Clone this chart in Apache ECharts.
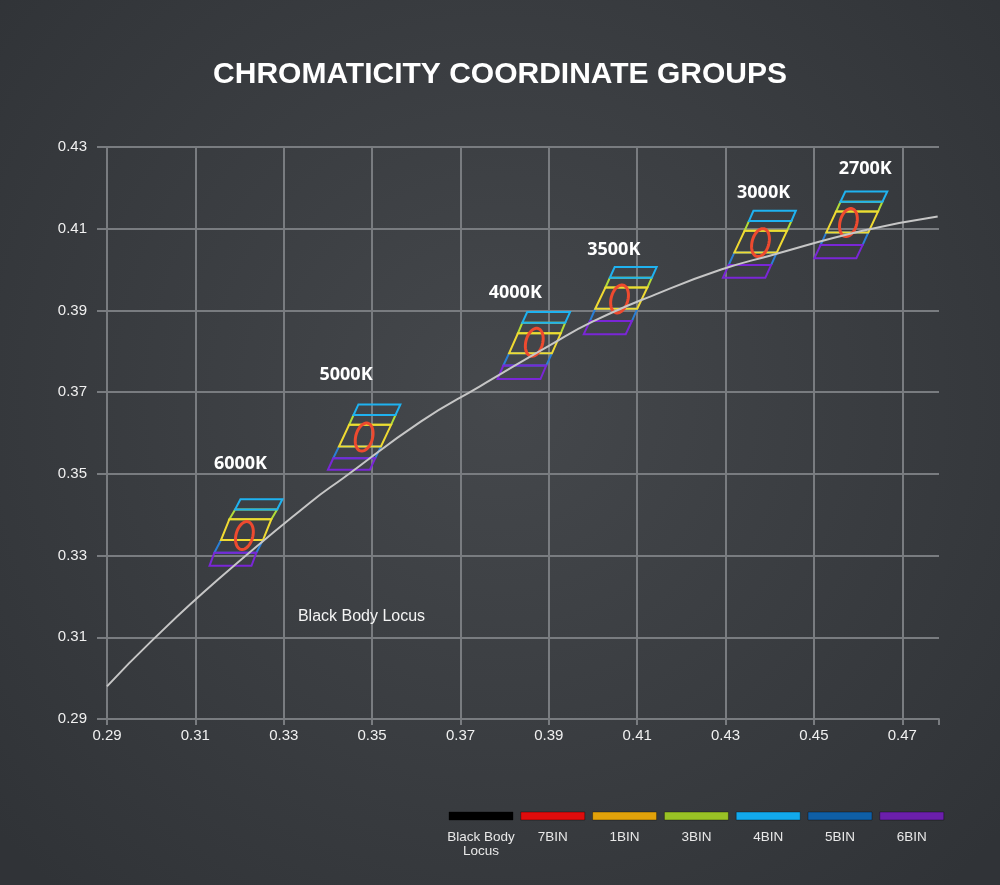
<!DOCTYPE html>
<html>
<head>
<meta charset="utf-8">
<title>Chromaticity Coordinate Groups</title>
<script src="https://cdn.jsdelivr.net/npm/echarts@6.0.0/dist/echarts.min.js"></script>
<style>
html, body { margin: 0; padding: 0; background: #3a3d41; }
#chart { width: 1000px; height: 885px; }
</style>
</head>
<body>
<div id="chart"></div>
<script>
// colour groups (CCT) and where their name sits
var groupNames = ['6000K', '5000K', '4000K', '3500K', '3000K', '2700K'];
var labelX = [0.3202, 0.3441, 0.3824, 0.4047, 0.4386, 0.4616];
var labelY = [0.3524, 0.3742, 0.3942, 0.4048, 0.4187, 0.4246];

// bin boundaries of each group, top to bottom:
// 4BIN top, 4BIN/3BIN, 3BIN/1BIN, 1BIN/5BIN, 5BIN/6BIN, 6BIN bottom
var binLevelY = [
    [0.3438, 0.3413, 0.3389, 0.3338, 0.3307, 0.3275],
    [0.3670, 0.3644, 0.3620, 0.3567, 0.3538, 0.3510],
    [0.3896, 0.3870, 0.3844, 0.3795, 0.3765, 0.3732],
    [0.4006, 0.3980, 0.3956, 0.3904, 0.3874, 0.3842],
    [0.4144, 0.4119, 0.4095, 0.4042, 0.4011, 0.3980],
    [0.4191, 0.4166, 0.4142, 0.4091, 0.4060, 0.4028]
];
// x of the left edge at those boundaries
var binLevelX = [
    [0.3202, 0.3190, 0.3177, 0.3158, 0.3143, 0.3132],
    [0.3469, 0.3458, 0.3448, 0.3425, 0.3412, 0.3400],
    [0.3851, 0.3840, 0.3830, 0.3810, 0.3797, 0.3784],
    [0.4049, 0.4038, 0.4028, 0.4005, 0.3993, 0.3979],
    [0.4363, 0.4353, 0.4343, 0.4320, 0.4307, 0.4294],
    [0.4571, 0.4560, 0.4550, 0.4528, 0.4515, 0.4501]
];
var binWidth = [0.0095, 0.0095, 0.0097, 0.0095, 0.0096, 0.0095];

// 7BIN ellipses
var ellipseX = [0.3211, 0.3482, 0.3867, 0.4060, 0.4379, 0.4578];
var ellipseY = [0.3349, 0.3590, 0.3822, 0.3928, 0.4066, 0.4115];
var ellipseSemiX = 0.0019;
var ellipseSemiY = 0.0035;
var ellipseTilt = 15;

// black body locus
var locusX = [0.290, 0.300, 0.315, 0.336, 0.3435, 0.361, 0.3745, 0.390, 0.400, 0.415, 0.429, 0.440, 0.461, 0.478];
var locusY = [0.298, 0.309, 0.324, 0.343, 0.349, 0.3628, 0.3715, 0.3813, 0.3873, 0.3943, 0.400, 0.4034, 0.4095, 0.413];
var locusLabel = { name: 'Black Body Locus', x: 0.3476, y: 0.3150 };

var xTickLabels = ['0.29', '0.31', '0.33', '0.35', '0.37', '0.39', '0.41', '0.43', '0.45', '0.47'];
var yTickLabels = ['0.29', '0.31', '0.33', '0.35', '0.37', '0.39', '0.41', '0.43'];

// bins in drawing order: [name, upper boundary index, line colour]
var bins = [
    ['5BIN', 3, '#2a7fd6'],
    ['3BIN', 1, '#b2dc38'],
    ['4BIN', 0, '#1fb2f0'],
    ['1BIN', 2, '#f0da32'],
    ['6BIN', 4, '#7a26d6']
];

var legendNames = ['Black Body\nLocus', '7BIN', '1BIN', '3BIN', '4BIN', '5BIN', '6BIN'];
var legendColors = ['#000000', '#df0c0c', '#e2a20a', '#99c225', '#12a9ec', '#0f5fa6', '#6b1fab'];

var gridColor = '#797c80';
var textColor = '#f0f0f0';

var myChart = echarts.init(document.getElementById('chart'));

var binRenderer = function (k, color) {
    return function (params, api) {
        var g = params.dataIndex;
        var x = binLevelX[g], y = binLevelY[g], w = binWidth[g];
        var pts = [
            api.coord([x[k], y[k]]),
            api.coord([x[k] + w, y[k]]),
            api.coord([x[k + 1] + w, y[k + 1]]),
            api.coord([x[k + 1], y[k + 1]])
        ];
        return {
            type: 'polygon',
            shape: { points: pts },
            style: { fill: 'none', stroke: color, lineWidth: 2 }
        };
    };
};

var ellipseRenderer = function (params, api) {
    var g = params.dataIndex;
    var c = api.coord([ellipseX[g], ellipseY[g]]);
    var s = api.size([ellipseSemiX, ellipseSemiY]);
    var a = ellipseTilt * Math.PI / 180;
    var pts = [];
    for (var t = 0; t < 60; t++) {
        var u = t / 60 * Math.PI * 2;
        var ex = s[0] * Math.cos(u), ey = s[1] * Math.sin(u);
        pts.push([c[0] + ex * Math.cos(a) - ey * Math.sin(a),
                  c[1] + ex * Math.sin(a) + ey * Math.cos(a)]);
    }
    return {
        type: 'polygon',
        shape: { points: pts },
        style: { fill: 'none', stroke: '#ee4a2f', lineWidth: 3 }
    };
};

var series = [];
bins.forEach(function (b) {
    series.push({
        name: b[0],
        type: 'custom',
        renderItem: binRenderer(b[1], b[2]),
        data: groupNames.map(function (n, g) { return [binLevelX[g][b[1]], binLevelY[g][b[1]]]; }),
        z: 2
    });
});
series.push({
    name: '7BIN',
    type: 'custom',
    renderItem: ellipseRenderer,
    data: groupNames.map(function (n, g) { return [ellipseX[g], ellipseY[g]]; }),
    z: 2
});
series.push({
    name: 'Black Body Locus',
    type: 'line',
    smooth: true,
    showSymbol: false,
    data: locusX.map(function (x, i) { return [x, locusY[i]]; }),
    lineStyle: { color: '#c6c6c6', width: 2 },
    z: 3
});
series.push({
    name: 'groups',
    type: 'scatter',
    symbolSize: 1,
    itemStyle: { color: 'transparent', opacity: 1 },
    data: groupNames.map(function (n, i) { return { name: n, value: [labelX[i], labelY[i]] }; }),
    label: {
        show: true, position: 'inside', formatter: '{b}',
        color: '#ffffff', textBorderWidth: 0, fontSize: 18, fontWeight: 'bold', fontFamily: 'Open Sans'
    },
    z: 4
});
series.push({
    name: 'locus label',
    type: 'scatter',
    symbolSize: 1,
    itemStyle: { color: 'transparent', opacity: 1 },
    data: [{ name: locusLabel.name, value: [locusLabel.x, locusLabel.y] }],
    label: {
        show: true, position: 'inside', formatter: '{b}',
        color: '#f4f4f4', textBorderWidth: 0, fontSize: 16, fontFamily: 'Liberation Sans'
    },
    z: 4
});

var legendGraphic = [];
legendNames.forEach(function (n, i) {
    var x0 = 449 + i * 71.8;
    legendGraphic.push({
        type: 'rect',
        shape: { x: x0, y: 812, width: 64, height: 8 },
        style: { fill: legendColors[i], stroke: 'rgba(0,0,0,0.35)', lineWidth: 1 }
    });
    legendGraphic.push({
        type: 'text',
        x: x0 + 32,
        y: 830,
        style: {
            text: n, align: 'center', verticalAlign: 'top',
            fill: '#e8e8e8', fontSize: 13.5, lineHeight: 14, fontFamily: 'Liberation Sans'
        }
    });
});

var option = {
    backgroundColor: new echarts.graphic.RadialGradient(0.5, 0.45, 0.75, [
        { offset: 0, color: '#45484c' },
        { offset: 1, color: '#303337' }
    ]),
    animation: false,
    title: {
        text: 'CHROMATICITY COORDINATE GROUPS',
        left: 'center',
        top: 55,
        textStyle: { color: '#ffffff', fontSize: 30, fontWeight: 'bold', fontFamily: 'Liberation Sans' }
    },
    grid: { left: 107, top: 147, right: 61, bottom: 166 },
    xAxis: {
        type: 'value',
        min: 0.29,
        max: 0.4783,
        interval: 0.02,
        axisLine: { show: true, lineStyle: { color: gridColor, width: 2 } },
        axisTick: { show: true, length: 6, lineStyle: { color: gridColor, width: 2 } },
        axisLabel: {
            color: textColor, fontSize: 15, fontFamily: 'Liberation Sans', margin: 9,
            formatter: function (v) {
                var s = v.toFixed(2);
                return xTickLabels.indexOf(s) >= 0 ? s : '';
            }
        },
        splitLine: { show: true, showMaxLine: false, lineStyle: { color: gridColor, width: 2 } }
    },
    yAxis: {
        type: 'value',
        min: 0.29,
        max: 0.43,
        interval: 0.02,
        axisLine: { show: true, lineStyle: { color: gridColor, width: 2 } },
        axisTick: { show: true, length: 10, lineStyle: { color: gridColor, width: 2 } },
        axisLabel: {
            color: textColor, fontSize: 15, fontFamily: 'Liberation Sans', margin: 20,
            formatter: function (v) {
                var s = v.toFixed(2);
                return yTickLabels.indexOf(s) >= 0 ? s : '';
            }
        },
        splitLine: { show: true, lineStyle: { color: gridColor, width: 2 } }
    },
    graphic: legendGraphic,
    series: series
};

myChart.setOption(option);
</script>
</body>
</html>
